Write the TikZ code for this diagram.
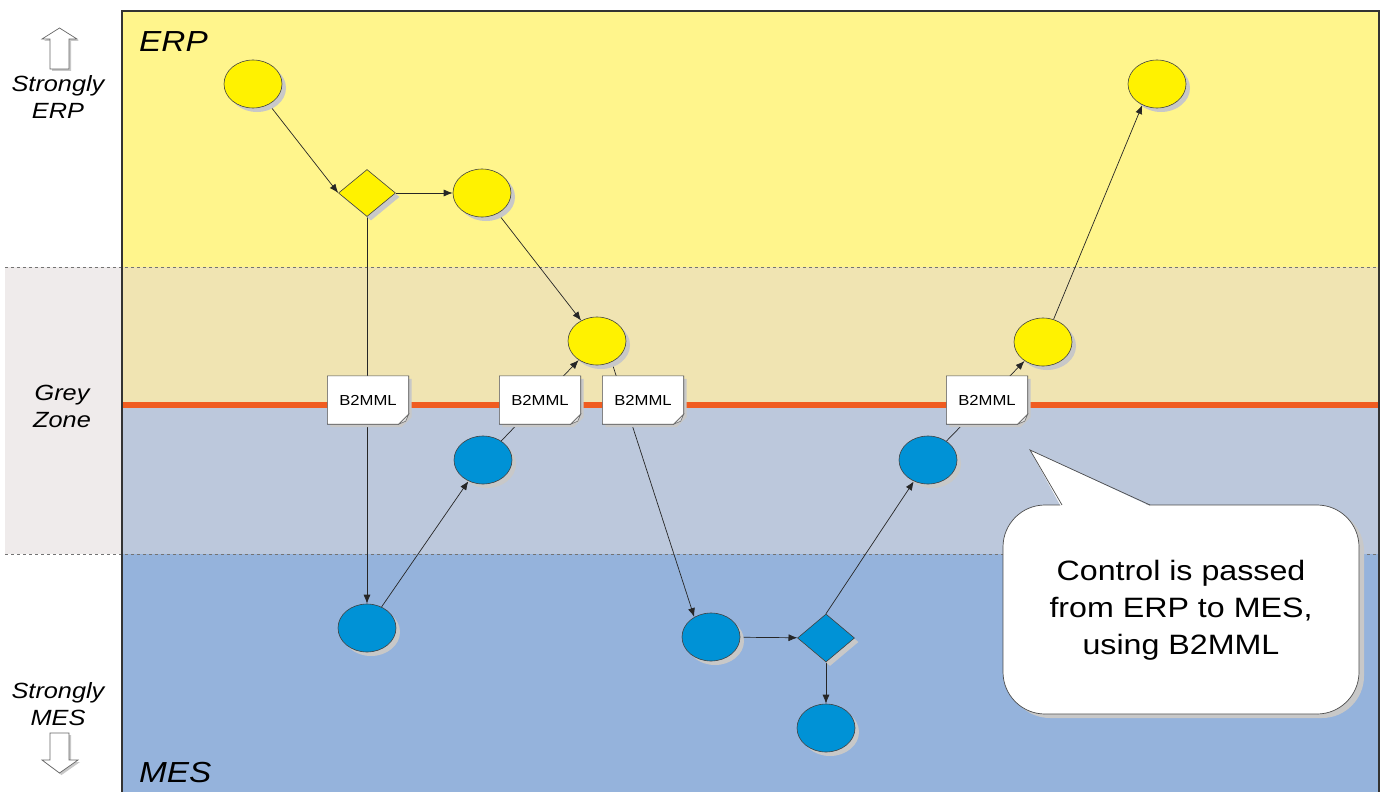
\documentclass[tikz,border=0pt]{standalone}
\usepackage{fontspec}
\setmainfont{Liberation Sans}[FakeStretch=1.15]
\usetikzlibrary{shapes.geometric,shadows,arrows.meta}
\definecolor{erpbg}{RGB}{255,245,140}
\definecolor{greyup}{RGB}{240,228,178}
\definecolor{greylow}{RGB}{188,200,220}
\definecolor{mesbg}{RGB}{149,179,220}
\definecolor{sideband}{RGB}{239,235,235}
\definecolor{orangeline}{RGB}{240,92,32}
\definecolor{nodeyellow}{RGB}{255,242,0}
\definecolor{nodeblue}{RGB}{0,146,214}
\definecolor{shadowgrey}{RGB}{200,200,200}
\pgfdeclarelayer{back}
\pgfdeclarelayer{edges}
\pgfdeclarelayer{docs}
\pgfsetlayers{back,edges,docs,main}
\tikzset{
  shd/.style={drop shadow={shadow xshift=4pt,shadow yshift=-4pt,fill=shadowgrey,opacity=1}},
  ynode/.style={ellipse,minimum width=58pt,minimum height=48pt,inner sep=0pt,fill=nodeyellow,draw=black!75,line width=0.6pt,shd},
  bnode/.style={ellipse,minimum width=58pt,minimum height=48pt,inner sep=0pt,fill=nodeblue,draw=black!75,line width=0.6pt,shd},
  ydia/.style={diamond,minimum width=57pt,minimum height=47pt,inner sep=0pt,fill=nodeyellow,draw=black!75,line width=0.6pt,shd},
  bdia/.style={diamond,minimum width=57pt,minimum height=48pt,inner sep=0pt,fill=nodeblue,draw=black!75,line width=0.6pt,shd},
  docnode/.style={rectangle,minimum width=81pt,minimum height=48pt,inner sep=0pt,font=\fontsize{14.5}{17}\selectfont},
  docshape/.style={fill=white,draw=black!70,line width=0.6pt,drop shadow={shadow xshift=3pt,shadow yshift=-3pt,fill=shadowgrey,opacity=1}},
  fold/.style={draw=black!60,line width=0.5pt,fill=black!12},
  conn/.style={draw=black!85,line width=0.7pt,-{Latex[length=9pt,width=7pt]}},
  sidelabel/.style={align=center,font=\itshape\fontsize{22}{27}\selectfont,inner sep=0pt},
  zonelabel/.style={anchor=west,font=\itshape\fontsize{29}{32}\selectfont,inner sep=0pt},
  outarrow/.style={fill=white,draw=black!60,line width=0.7pt,drop shadow={shadow xshift=2pt,shadow yshift=-2pt,fill=shadowgrey,opacity=1}},
  callout/.style={fill=white,draw=black!70,line width=0.7pt,drop shadow={shadow xshift=5pt,shadow yshift=-4pt,fill=shadowgrey,opacity=1}},
  calltext/.style={align=center,font=\fontsize{28}{37}\selectfont,inner sep=0pt}
}
\begin{document}
\begin{tikzpicture}[x=1pt,y=-1pt]
\useasboundingbox (0,0) rectangle (1381,792);
\begin{pgfonlayer}{back}
\fill[white] (0,0) rectangle (1381,792);
\fill[sideband] (5,267) rectangle (122,554);
\fill[erpbg] (122,11) rectangle (1379,267);
\fill[greyup] (122,267) rectangle (1379,405);
\fill[greylow] (122,405) rectangle (1379,554);
\fill[mesbg] (122,554) rectangle (1379,792);
\draw[black!55,dashed,line width=0.7pt] (5,267) -- (1379,267);
\draw[black!55,dashed,line width=0.7pt] (5,554) -- (1379,554);
\draw[orangeline,line width=6pt] (122,405) -- (1379,405);
\draw[black!80,line width=1.2pt] (122,792) -- (122,11) -- (1379,11) -- (1379,792);
\end{pgfonlayer}

% labels
\node[zonelabel] (erplbl) at (139,42) {ERP};
\node[zonelabel] (meslbl) at (139,773) {MES};
\node[sidelabel] (serp) at (58,97) {Strongly\\ERP};
\node[sidelabel] (grey) at (62,406) {Grey\\Zone};
\node[sidelabel] (smes) at (58,704) {Strongly\\MES};
\draw[outarrow] (50,69) -- (50,39) -- (42,39) -- (59.5,28) -- (77,39) -- (69,39) -- (69,69) -- cycle;
\draw[outarrow] (50,733) -- (69,733) -- (69,760) -- (78,760) -- (59.5,773) -- (42,760) -- (50,760) -- cycle;

% nodes
\node[ynode] (Y1) at (253,84) {};
\node[ydia]  (D1) at (367,193) {};
\node[ynode] (Y2) at (482,193) {};
\node[ynode] (Y3) at (597,341) {};
\node[ynode] (Y4) at (1043,342) {};
\node[ynode] (Y5) at (1157,84) {};
\node[bnode] (B1) at (367,628) {};
\node[bnode] (B2) at (483,460) {};
\node[bnode] (B3) at (711,637) {};
\node[bdia]  (D2) at (826,638) {};
\node[bnode] (B4) at (826,728) {};
\node[bnode] (B5) at (928,460) {};

\node[docnode] (M1) at (368,400) {B2MML};
\node[docnode] (M2) at (540,400) {B2MML};
\node[docnode] (M3) at (643,400) {B2MML};
\node[docnode] (M4) at (987,400) {B2MML};

\begin{pgfonlayer}{docs}
\foreach \d in {M1,M2,M3,M4}{
  \draw[docshape] (\d.north west) -- (\d.north east) -- ([yshift=10pt]\d.south east) -- ([xshift=-10pt]\d.south east) -- (\d.south west) -- cycle;
  \draw[fold] ([yshift=10pt]\d.south east) -- ([xshift=-3pt,yshift=3pt]\d.south east) -- ([xshift=-10pt]\d.south east) -- cycle;
}
\end{pgfonlayer}

% connectors
\begin{pgfonlayer}{edges}
\draw[conn] (Y1) -- (D1.west);
\draw[conn] (D1) -- (Y2);
\draw[conn] (D1) -- (B1);
\draw[conn] (Y2) -- (Y3);
\draw[conn] (B1) -- (B2);
\draw[conn] (B2) -- (Y3);
\draw[conn] (Y3.-55) -- (B3.130);
\draw[conn] (B3) -- (D2);
\draw[conn] (D2) -- (B4);
\draw[conn] (D2.north) -- (B5);
\draw[conn] (B5) -- (Y4);
\draw[conn] (Y4.65) -- (Y5.235);
\end{pgfonlayer}

% callout
\fill[shadowgrey] (1066,509) -- (1034,454) -- (1155,509) -- cycle;
\draw[callout, rounded corners=42pt] (1003,505) rectangle (1359,714);
\fill[white] (1061,506.5) -- (1030,450) -- (1151,506.5) -- cycle;
\draw[black!70,line width=0.7pt,line join=miter] (1062,505) -- (1030,450) -- (1150,505);
\node[calltext] (note) at (1181,610) {Control is passed\\from ERP to MES,\\using B2MML};
\end{tikzpicture}
\end{document}
